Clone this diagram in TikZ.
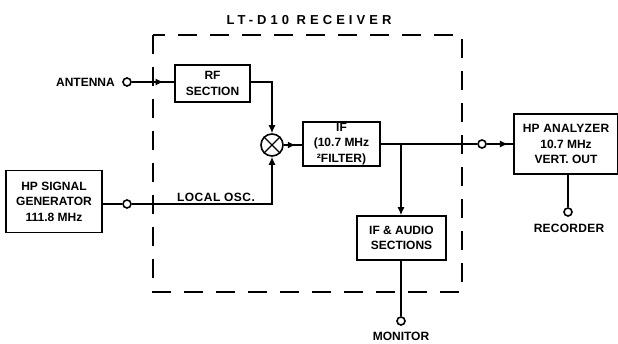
\documentclass[tikz,border=0pt]{standalone}
\usepackage{fontspec}
\setmainfont{Liberation Sans}
\usetikzlibrary{arrows.meta,decorations.markings}
\tikzset{
  x=1pt,y=-1pt,
  blk/.style={draw,line width=1.6pt,inner sep=0pt,align=center,font=\fontsize{12}{15.5}\selectfont\bfseries},
  lbl/.style={inner sep=0pt,font=\fontsize{12}{13}\selectfont\bfseries},
  term/.style={circle,draw,line width=1.6pt,fill=white,minimum size=8pt,inner sep=0pt},
  wire/.style={line width=1.3pt},
  tip/.style={wire,-{Latex[length=8pt,width=7pt]},shorten >=0pt},
  midtip/.style={wire,postaction={decorate},decoration={markings,mark=at position #1 with {\arrow{Latex[length=8pt,width=7pt]}}}}
}
\begin{document}
\begin{tikzpicture}
\useasboundingbox (0,0) rectangle (618,343);
\fill[white] (0,0) rectangle (618,343);
\coordinate (bnw) at (153,35);
\coordinate (bse) at (462,292);
\draw[line width=1.3pt,dash pattern=on 19pt off 13pt] (bnw) rectangle (bse);
\node[inner sep=0pt,font=\fontsize{13}{14}\selectfont\bfseries] (title) at (309,20) {\addfontfeature{LetterSpace=31}LT-D10 RECEIVER};
\node[blk,minimum width=75pt,minimum height=37pt] (rf) at (212.5,83.5) {RF\\SECTION};
\node[circle,draw,line width=1.6pt,minimum size=22pt,inner sep=0pt,fill=white] (mix) at (272,145) {};
\draw[line width=1.3pt] (mix.north west)--(mix.south east) (mix.north east)--(mix.south west);
\node[blk,minimum width=77pt,minimum height=44pt] (if) at (341.5,144) {IF\\(10.7 MHz\\²FILTER)};
\node[blk,minimum width=89pt,minimum height=44pt] (audio) at (401.5,238) {IF \& AUDIO\\SECTIONS};
\node[blk,minimum width=104pt,minimum height=60pt] (ana) at (566,144) {\addfontfeature{LetterSpace=2}HP ANALYZER\\10.7 MHz\\VERT. OUT};
\node[blk,minimum width=96pt,minimum height=62pt] (gen) at (54,201.5) {HP SIGNAL\\GENERATOR\\111.8 MHz};
\node[lbl,anchor=east] (ant) at (115,82) {ANTENNA};
\node[lbl] (loc) at (216,197) {\addfontfeature{LetterSpace=4}LOCAL OSC.};
\node[lbl] (mon) at (401,336) {MONITOR};
\node[lbl] (rec) at (569,228) {\addfontfeature{LetterSpace=2}RECORDER};
\node[term] (t1) at (127,82) {};
\node[term] (t2) at (127,204) {};
\node[term] (t3) at (482,144) {};
\node[term] (t4) at (568,212) {};
\node[term] (t5) at (401,321) {};
\coordinate (jct) at (401,144);
\draw[midtip=0.75] (t1) -- (t1 -| rf.west);
\draw[tip] (t1 -| rf.east) -| (mix.north);
\draw[wire] (t2 -| gen.east) -- (t2);
\draw[tip] (t2) -| (mix.south);
\draw[midtip=0.65] (mix.east) -- (mix.east -| if.west);
\draw[wire] (jct -| if.east) -- (t3);
\draw[midtip=0.8] (t3) -- (t3 -| ana.west);
\draw[tip] (jct) -- (jct |- audio.north);
\draw[wire] (jct |- audio.south) -- (t5);
\draw[wire] (t4 |- ana.south) -- (t4);
\end{tikzpicture}
\end{document}
